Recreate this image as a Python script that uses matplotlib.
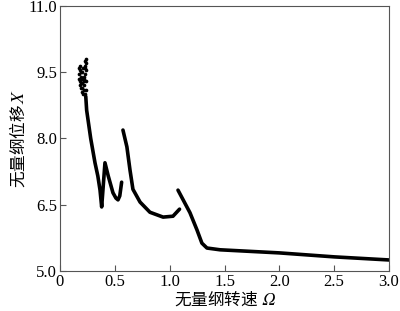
import matplotlib.pyplot as plt

plt.rcParams['font.family'] = ['Liberation Serif', 'Noto Sans CJK SC']
plt.rcParams['mathtext.fontset'] = 'stix'

# scattered start region
cluster_w = [0.17, 0.175, 0.18, 0.185, 0.19, 0.195, 0.2, 0.205, 0.21, 0.215, 0.22, 0.225, 0.23, 0.235, 0.24,
             0.18, 0.19, 0.2, 0.21, 0.22, 0.23, 0.24, 0.185, 0.205, 0.225, 0.235,
             0.175, 0.195, 0.215, 0.23, 0.24, 0.2, 0.22]
cluster_x = [9.45, 9.6, 9.3, 9.55, 9.15, 9.5, 9.05, 9.35, 9.0, 9.4, 9.2, 9.65, 9.75, 9.55, 9.1,
             9.65, 9.4, 9.25, 9.6, 9.1, 9.45, 9.3, 9.2, 9.5, 9.0, 9.8,
             9.35, 9.25, 9.3, 9.6, 9.7, 9.15, 9.35]

w1 = [0.235, 0.243, 0.28, 0.319, 0.345, 0.365, 0.38, 0.395, 0.41, 0.44, 0.483, 0.51, 0.529, 0.545, 0.562]
x1 = [8.95, 8.64, 8.0, 7.45, 7.15, 6.83, 6.45, 6.95, 7.45, 7.15, 6.77, 6.65, 6.61, 6.7, 7.01]

w2 = [0.574, 0.61, 0.638, 0.665, 0.73, 0.82, 0.94, 1.03, 1.09]
x2 = [8.19, 7.81, 7.29, 6.85, 6.56, 6.33, 6.22, 6.24, 6.40]

w3 = [1.076, 1.185, 1.249, 1.294, 1.34, 1.46, 2.0, 2.5, 3.0]
x3 = [6.83, 6.32, 5.93, 5.63, 5.52, 5.48, 5.41, 5.32, 5.25]

fig = plt.figure(figsize=(4.0, 3.11), dpi=100)
ax = fig.add_axes([0.15, 0.1286, 0.8225, 0.8524])

ax.scatter(cluster_w, cluster_x, s=7, color='black', zorder=3, linewidths=0)
for w, x in [(w1, x1), (w2, x2), (w3, x3)]:
    ax.plot(w, x, color='black', lw=2.6, solid_capstyle='round')

ax.set_xlim(0, 3.0)
ax.set_ylim(5.0, 11.0)
ax.set_xticks([0, 0.5, 1.0, 1.5, 2.0, 2.5, 3.0])
ax.set_xticklabels(['0', '0.5', '1.0', '1.5', '2.0', '2.5', '3.0'])
ax.set_yticks([5.0, 6.5, 8.0, 9.5, 11.0])
ax.set_yticklabels(['5.0', '6.5', '8.0', '9.5', '11.0'])
ax.tick_params(direction='in', labelsize=12, length=4, width=0.8, pad=2, color='#555555')
for s in ax.spines.values():
    s.set_color('#555555')
    s.set_linewidth(0.8)

ax.set_xlabel('无量纲转速 $𝛺$', fontsize=12, labelpad=0,
              fontfamily='Noto Sans CJK SC')
ax.set_ylabel('无量纲位移$𝑋$', fontsize=12, labelpad=1,
              fontfamily='Noto Sans CJK SC')

fig.savefig('out.png', dpi=100)
